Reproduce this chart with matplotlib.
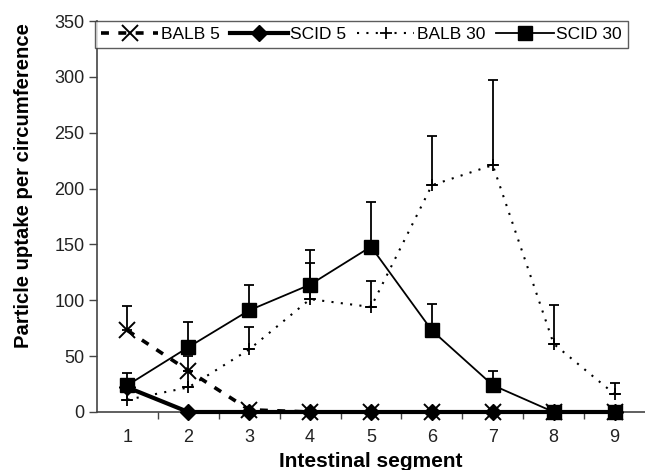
import matplotlib
matplotlib.use("Agg")
import matplotlib.pyplot as plt
import numpy as np

plt.rcParams['font.family'] = ['Liberation Sans', 'DejaVu Sans']

segments = [1, 2, 3, 4, 5, 6, 7, 8, 9]
balb5 = [73, 37, 2, 0, 0, 0, 0, 0, 0]
balb5_err = [22, 0, 0, 0, 0, 0, 0, 0, 0]
scid5 = [22, 0, 0, 0, 0, 0, 0, 0, 0]
balb30 = [11, 22, 56, 101, 94, 203, 221, 61, 16]
balb30_err = [10, 28, 20, 32, 23, 44, 76, 35, 10]
scid30 = [24, 58, 91, 114, 148, 73, 24, 0, 0]
scid30_err = [11, 23, 23, 31, 40, 24, 13, 0, 0]

fig = plt.figure(figsize=(6.45, 4.70), dpi=100)
ax = fig.add_axes([97/645, 58/470, 1 - 97/645, (412-21)/470])

x = np.array(segments)
zeros = np.zeros(len(segments))

# error bars (upper only)
for vals, err in [(balb5, balb5_err), (balb30, balb30_err), (scid30, scid30_err)]:
    ax.errorbar(x, vals, yerr=[zeros, np.array(err)], fmt='none', ecolor='black',
                elinewidth=1.3, capsize=3.8, capthick=1.3, zorder=2)

l2, = ax.plot(x, scid5, color='black', lw=3.0, linestyle='-',
              marker='D', ms=8, label='SCID 5', zorder=3, clip_on=False)
l1, = ax.plot(x, balb5, color='black', lw=2.6, linestyle=(0, (2.2, 2.6)),
              marker='x', ms=11, mew=1.4, label='BALB 5', zorder=4, clip_on=False)
l3, = ax.plot(x, balb30, color='black', lw=1.5, linestyle=(0, (1, 3.5)),
              marker='+', ms=8, mew=1.3, label='BALB 30', zorder=3, clip_on=False)
l4, = ax.plot(x, scid30, color='black', lw=1.3, linestyle='-',
              marker='s', ms=9.5, label='SCID 30', zorder=5, clip_on=False)

ax.set_xlim(0.5, 9.5)
ax.set_ylim(0, 350)
ax.set_yticks(np.arange(0, 351, 50))
ax.set_xticks(segments)
ax.set_xticks(np.arange(1.5, 9.5, 1), minor=True)
ax.tick_params(axis='x', which='major', length=0, labelsize=13, pad=12)
ax.tick_params(axis='x', which='minor', length=5, width=1, direction='out', color='#444444')
ax.tick_params(axis='y', length=6, width=1, labelsize=13, direction='out', color='#444444', pad=3)
for lab in ax.get_xticklabels() + ax.get_yticklabels():
    lab.set_color('#222222')

ax.spines['top'].set_visible(False)
ax.spines['right'].set_visible(False)
ax.spines['left'].set_color('#444444')
ax.spines['bottom'].set_color('#444444')
ax.spines['left'].set_linewidth(1.2)
ax.spines['bottom'].set_linewidth(1.2)

ax.set_xlabel('Intestinal segment', fontsize=15, fontweight='bold')
ax.xaxis.set_label_coords(0.5, -40/391)
ax.set_ylabel('Particle uptake per circumference', fontsize=14.6, fontweight='bold')
ax.yaxis.set_label_coords(-64/548, (412-186)/391)

leg = ax.legend(handles=[l1, l2, l3, l4], ncol=4, loc='upper left',
                bbox_to_anchor=(-0.004, 1.0, (628-95)/548, 0), mode='expand',
                fontsize=12.5, frameon=True, fancybox=False, borderpad=0.35,
                handlelength=3.3, handletextpad=0.15, columnspacing=0.6,
                borderaxespad=0)
leg.get_frame().set_edgecolor('#333333')
leg.get_frame().set_linewidth(1.0)
leg.set_zorder(10)

fig.savefig('out.png', dpi=100)
